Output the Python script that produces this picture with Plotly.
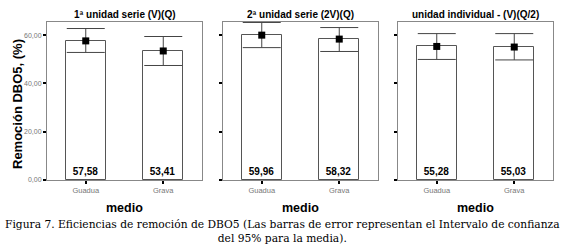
import plotly.graph_objects as go

categories = ["Guadua", "Grava"]
panel_titles = ["1ª unidad serie (V)(Q)", "2ª unidad serie (2V)(Q)", "unidad individual - (V)(Q/2)"]
means = [[57.58, 53.41], [59.96, 58.32], [55.28, 55.03]]
ci_upper = [[62.7, 59.4], [65.2, 63.1], [60.6, 60.6]]
ci_lower = [[52.8, 47.4], [54.8, 53.2], [49.9, 49.7]]
y_ticks = [0, 20, 40, 60]
x_title = "medio"
y_title = "Remoción DBO5, (%)"
caption = ("Figura 7. Eficiencias de remoción de DBO5 (Las barras de error representan el Intervalo de confianza"
           "<br>del 95% para la media).")

W, H = 565, 245
x_domains = [(47, 202), (223, 378), (398, 553)]
y_dom = (1 - 180 / H, 1 - 22 / H)
SANS = "Liberation Sans, Arial"

fig = go.Figure()
for i in range(3):
    xa = "x" if i == 0 else f"x{i+1}"
    ya = "y" if i == 0 else f"y{i+1}"
    m = means[i]
    fig.add_trace(go.Bar(
        x=categories, y=m, xaxis=xa, yaxis=ya, width=0.52,
        marker=dict(color="white", line=dict(color="#555555", width=1)),
        text=[f"{v:.2f}".replace(".", ",") for v in m],
        textposition="inside", insidetextanchor="start",
        textfont=dict(family=SANS, size=10, color="black", weight="bold"),
        textangle=0, showlegend=False, hoverinfo="skip",
    ))
    fig.add_trace(go.Scatter(
        x=categories, y=m, xaxis=xa, yaxis=ya, mode="markers",
        marker=dict(symbol="square", color="black", size=7),
        error_y=dict(type="data", symmetric=False,
                     array=[u - v for u, v in zip(ci_upper[i], m)],
                     arrayminus=[v - l for v, l in zip(m, ci_lower[i])],
                     color="#444444", thickness=1, width=19),
        showlegend=False, hoverinfo="skip",
    ))
    x0, x1 = x_domains[i]
    fig.update_layout(**{
        ("xaxis" if i == 0 else f"xaxis{i+1}"): dict(
            domain=[x0 / W, x1 / W], anchor=ya, range=[-0.5, 1.5], automargin=False,
            showline=True, mirror=True, linecolor="#888888", linewidth=1,
            ticks="outside", ticklen=3, tickwidth=2, tickcolor="black",
            tickfont=dict(family=SANS, size=7.5, color="#777777"),
            showgrid=False, zeroline=False, fixedrange=True,
        ),
        ("yaxis" if i == 0 else f"yaxis{i+1}"): dict(
            domain=list(y_dom), anchor=xa, range=[0, 65.4], automargin=False,
            tickvals=y_ticks, tickformat=".2f", showticklabels=(i == 0),
            showline=True, mirror=True, linecolor="#888888", linewidth=1,
            ticks="outside", ticklen=3, tickwidth=2, tickcolor="black",
            tickfont=dict(family=SANS, size=7, color="#777777"),
            showgrid=False, zeroline=False,
        ),
    })
    fig.add_annotation(x=(x0 + x1) / 2 / W, y=1 - 15 / H, xref="paper", yref="paper",
                       xanchor="center", yanchor="middle",
                       text=panel_titles[i], showarrow=False,
                       font=dict(family=SANS, size=10, color="black", weight="bold"))
    fig.add_annotation(x=(x0 + x1) / 2 / W, y=1 - 208 / H, xref="paper", yref="paper",
                       xanchor="center", yanchor="middle",
                       text=x_title, showarrow=False,
                       font=dict(family=SANS, size=12.5, color="black", weight="bold"))

fig.add_annotation(x=17 / W, y=1 - 104 / H, xref="paper", yref="paper",
                   xanchor="center", yanchor="middle", textangle=-90,
                   text=y_title, showarrow=False,
                   font=dict(family=SANS, size=13, color="black", weight="bold"))

fig.add_annotation(x=0.5, y=1 - 231 / H, xref="paper", yref="paper", showarrow=False,
                   xanchor="center", yanchor="middle",
                   text=caption,
                   font=dict(family="DejaVu Serif, serif", size=10.7, color="black"),
                   align="center")

fig.update_layout(width=W, height=H, margin=dict(l=0, r=0, t=0, b=0, autoexpand=False),
                  template="none",
                  paper_bgcolor="white", plot_bgcolor="white", separators=",.",
                  bargap=0)
fig.write_html("out.html", config={"displayModeBar": False},
               post_script="document.body.style.margin='0';")
